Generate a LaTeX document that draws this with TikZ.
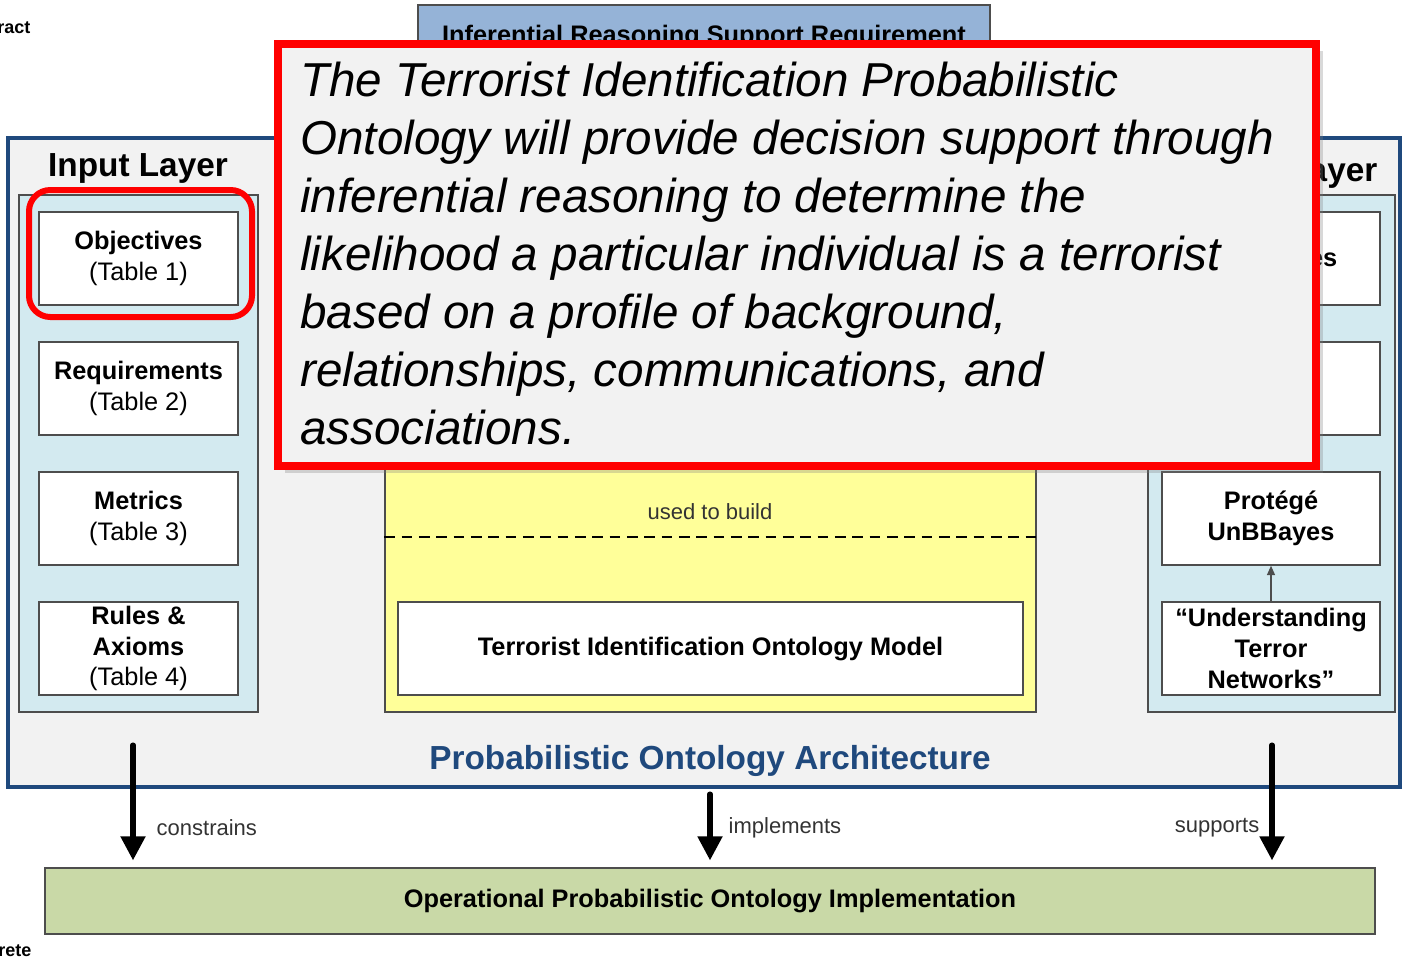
\documentclass[tikz,border=0pt]{standalone}
\usepackage{fontspec}
\setmainfont{Liberation Sans}
\usetikzlibrary{arrows.meta,shadows}

\definecolor{archblue}{RGB}{31,73,125}
\definecolor{archfill}{RGB}{242,242,242}
\definecolor{layerblue}{RGB}{211,234,240}
\definecolor{reqblue}{RGB}{149,179,215}
\definecolor{modelyellow}{RGB}{255,255,153}
\definecolor{opsgreen}{RGB}{201,217,167}
\definecolor{edgegray}{RGB}{77,77,77}
\definecolor{labelgray}{RGB}{51,51,51}
\definecolor{alertred}{RGB}{255,0,0}

\tikzset{
  layer/.style={draw=edgegray, fill=layerblue, line width=1.1pt, inner sep=0pt},
  tbox/.style={draw=edgegray, fill=white, line width=1.1pt, inner sep=0pt, align=center,
    minimum height=69.75pt, font=\fontsize{19}{23}\selectfont\bfseries},
  heading/.style={font=\fontsize{25}{30}\selectfont\bfseries},
  rel/.style={text=labelgray, font=\fontsize{16.5}{20}\selectfont},
  flow/.style={line width=3.8pt, line cap=round, -{Triangle[length=18pt, width=18pt]}, shorten >=5pt},
}

\begin{document}
\begin{tikzpicture}[x=0.75pt, y=-0.75pt]
\useasboundingbox (0,0) rectangle (1402,961);

\node[font=\fontsize{13.5}{16}\selectfont\bfseries, anchor=east] (abstract) at (35,27) {Abstract};
\node[font=\fontsize{13.5}{16}\selectfont\bfseries, anchor=east] (concrete) at (36,950) {Concrete};

% architecture frame
\node[draw=archblue, fill=archfill, line width=3.5pt, minimum width=1044pt, minimum height=486.75pt] (arch) at (704,462.5) {};
\node[heading, text=archblue] (archtitle) at (710,761) {Probabilistic Ontology Architecture};

\node[draw=edgegray, fill=reqblue, line width=1.1pt, minimum width=429pt, minimum height=48.75pt,
  font=\fontsize{19}{23}\selectfont\bfseries] (inferreq) at (704,37.5) {Inferential Reasoning Support Requirement};

% input layer
\node[layer, minimum width=179.25pt, minimum height=387.75pt] (inputlayer) at (138.5,453.5) {};
\node[heading] (inputtitle) at (138,168) {Input Layer};
\node[tbox, minimum width=149.25pt] (objectives) at (138.5,258.5) {Objectives\\\textmd{(Table 1)}};
\node[tbox, minimum width=149.25pt] (requirements) at (138.5,388.5) {Requirements\\\textmd{(Table 2)}};
\node[tbox, minimum width=149.25pt] (metrics) at (138.5,518.5) {Metrics\\\textmd{(Table 3)}};
\node[tbox, minimum width=149.25pt] (rules) at (138.5,648.5) {Rules \&\\Axioms\\\textmd{(Table 4)}};

% right layer
\node[layer, minimum width=185.25pt, minimum height=387.75pt] (toollayer) at (1271.5,453.5) {};
\node[heading, anchor=east] (tooltitle) at (1382,173) {Layer};
\node[tbox, minimum width=163.5pt] (ontologies) at (1271,258.5) {\strut\\Ontologies\\\textmd{(Table 5)}};
\node[tbox, minimum width=163.5pt] (toolbox) at (1271,388.5) {};
\node[tbox, minimum width=163.5pt] (protege) at (1271,518.5) {Protégé\\UnBBayes};
\node[tbox, minimum width=163.5pt] (utn) at (1271,648.5) {“Understanding\\Terror\\Networks”};
\draw[edgegray, line width=1pt, -{Triangle[length=7pt, width=6pt]}] (utn) -- (protege);

% ontology model
\node[draw=edgegray, fill=modelyellow, line width=1.1pt, minimum width=488.25pt, minimum height=309pt] (ontology) at (710.5,506) {};
\coordinate (split) at (710,537);
\draw[line width=1pt, dash pattern=on 8pt off 5pt] (ontology.west |- split) -- (ontology.east |- split);
\node[rel] (usedtobuild) at (710,512) {used to build};
\node[tbox, minimum width=468.75pt] (tiomodel) at (710.5,648.5) {Terrorist Identification Ontology Model};

% callout
\node[draw=alertred, fill=archfill, line width=6pt, minimum width=778.5pt, minimum height=316.5pt,
  drop shadow={shadow xshift=5pt, shadow yshift=-5pt, opacity=0.3}] (callout) at (797,255) {};
\node[anchor=north west, align=left, inner sep=0pt, font=\fontsize{35.7}{43.5}\selectfont\itshape] (claim) at (300,62)
  {The Terrorist Identification Probabilistic\\
   Ontology will provide decision support through\\
   inferential reasoning to determine the\\
   likelihood a particular individual is a terrorist\\
   based on a profile of background,\\
   relationships, communications, and\\
   associations.};

\node[draw=alertred, line width=4.5pt, rounded corners=16pt, minimum width=167.25pt, minimum height=95.25pt] (focus) at (140.5,253.5) {};

% implementation
\node[draw=edgegray, fill=opsgreen, line width=1.5pt, minimum width=997.5pt, minimum height=49.5pt,
  font=\fontsize{19}{23}\selectfont\bfseries] (operational) at (710,901) {Operational Probabilistic Ontology Implementation};

\coordinate (constrainsfrom) at (133,745);
\coordinate (implementsfrom) at (710,794);
\coordinate (supportsfrom) at (1272,745);
\draw[flow] (constrainsfrom) -- (constrainsfrom |- operational.north);
\draw[flow] (implementsfrom) -- (implementsfrom |- operational.north);
\draw[flow] (supportsfrom) -- (supportsfrom |- operational.north);
\node[rel, anchor=west] (constrains) at (152,828) {constrains};
\node[rel, anchor=west] (implements) at (724,828) {implements};
\node[rel, anchor=east] (supports) at (1264,828) {supports};
\end{tikzpicture}
\end{document}
